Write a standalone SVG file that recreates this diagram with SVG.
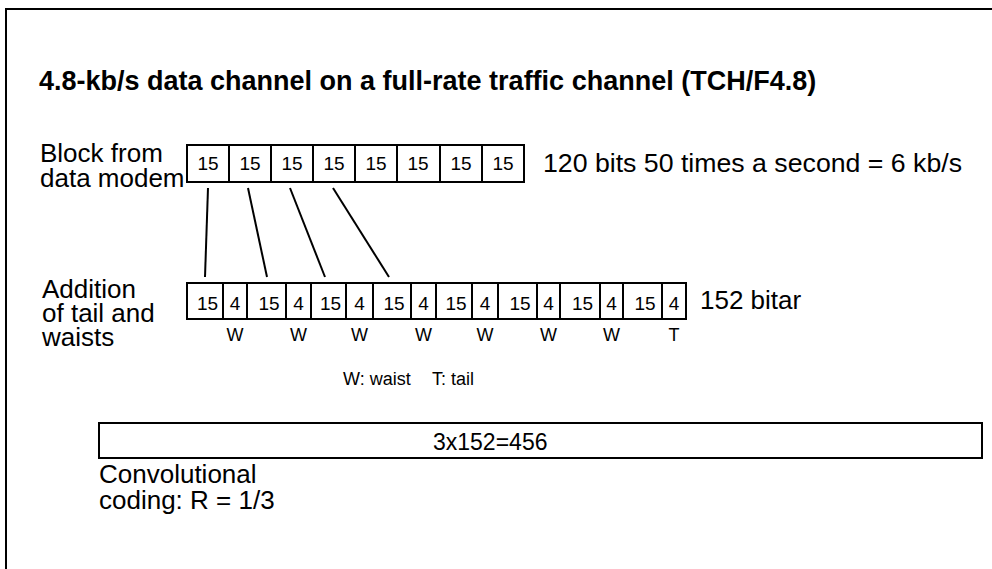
<svg xmlns="http://www.w3.org/2000/svg" width="992" height="569" viewBox="0 0 992 569">
<style>
text{font-family:"Liberation Sans",Arial,sans-serif;fill:#000}
.lbl{font-size:26px}
.cell{fill:#fff;stroke:#000;stroke-width:2}
.num{font-size:19px;text-anchor:middle}
.w{font-size:18px;text-anchor:middle}
.conn{stroke:#000;stroke-width:2;fill:none}
</style>
<rect x="0" y="0" width="992" height="569" fill="#fff"/>
<rect x="6" y="9" width="1000" height="600" fill="none" stroke="#000" stroke-width="2"/>
<text x="39" y="90" font-size="27" font-weight="bold">4.8-kb/s data channel on a full-rate traffic channel (TCH/F4.8)</text>

<g id="label-block">
<text class="lbl"><tspan x="40" y="162">Block from</tspan><tspan x="40" y="187">data modem</tspan></text>
</g>
<g id="block-modem">
<rect class="cell" x="187" y="145" width="42" height="37"/>
<rect class="cell" x="229" y="145" width="42" height="37"/>
<rect class="cell" x="271" y="145" width="42" height="37"/>
<rect class="cell" x="313" y="145" width="42" height="37"/>
<rect class="cell" x="355" y="145" width="42" height="37"/>
<rect class="cell" x="397" y="145" width="43" height="37"/>
<rect class="cell" x="440" y="145" width="42" height="37"/>
<rect class="cell" x="482" y="145" width="42" height="37"/>
<text class="num" x="208" y="170">15</text>
<text class="num" x="250" y="170">15</text>
<text class="num" x="292" y="170">15</text>
<text class="num" x="334" y="170">15</text>
<text class="num" x="376" y="170">15</text>
<text class="num" x="418" y="170">15</text>
<text class="num" x="461" y="170">15</text>
<text class="num" x="503" y="170">15</text>
</g>
<g id="label-rate">
<text class="lbl" x="543" y="172" textLength="419" lengthAdjust="spacingAndGlyphs">120 bits 50 times a second = 6 kb/s</text>
</g>

<g id="connectors">
<line class="conn" x1="208" y1="188" x2="205" y2="277"/>
<line class="conn" x1="248" y1="188" x2="267" y2="277"/>
<line class="conn" x1="290" y1="188" x2="325" y2="277"/>
<line class="conn" x1="333" y1="188" x2="389" y2="277"/>
</g>

<g id="label-addition">
<text class="lbl"><tspan x="42" y="298">Addition</tspan><tspan x="42" y="322">of tail and</tspan><tspan x="42" y="346">waists</tspan></text>
</g>
<g id="block-tail-waists">
<rect class="cell" x="187" y="283" width="36" height="36"/>
<rect class="cell" x="223" y="283" width="24" height="36"/>
<rect class="cell" x="247" y="283" width="39" height="36"/>
<rect class="cell" x="286" y="283" width="25" height="36"/>
<rect class="cell" x="311" y="283" width="35" height="36"/>
<rect class="cell" x="346" y="283" width="27" height="36"/>
<rect class="cell" x="373" y="283" width="38" height="36"/>
<rect class="cell" x="411" y="283" width="25" height="36"/>
<rect class="cell" x="436" y="283" width="36" height="36"/>
<rect class="cell" x="472" y="283" width="26" height="36"/>
<rect class="cell" x="498" y="283" width="39" height="36"/>
<rect class="cell" x="537" y="283" width="23" height="36"/>
<rect class="cell" x="560" y="283" width="40" height="36"/>
<rect class="cell" x="600" y="283" width="23" height="36"/>
<rect class="cell" x="623" y="283" width="39" height="36"/>
<rect class="cell" x="662" y="283" width="24" height="36"/>
<text class="num" x="207.5" y="310">15</text>
<text class="num" x="235" y="310">4</text>
<text class="num" x="269" y="310">15</text>
<text class="num" x="298.5" y="310">4</text>
<text class="num" x="330.5" y="310">15</text>
<text class="num" x="359.5" y="310">4</text>
<text class="num" x="394" y="310">15</text>
<text class="num" x="423.5" y="310">4</text>
<text class="num" x="456" y="310">15</text>
<text class="num" x="485" y="310">4</text>
<text class="num" x="520" y="310">15</text>
<text class="num" x="548.5" y="310">4</text>
<text class="num" x="582.5" y="310">15</text>
<text class="num" x="611.5" y="310">4</text>
<text class="num" x="645" y="310">15</text>
<text class="num" x="674" y="310">4</text>
<text class="w" x="235" y="341">W</text>
<text class="w" x="298.5" y="341">W</text>
<text class="w" x="359.5" y="341">W</text>
<text class="w" x="423.5" y="341">W</text>
<text class="w" x="485" y="341">W</text>
<text class="w" x="548.5" y="341">W</text>
<text class="w" x="611.5" y="341">W</text>
<text class="w" x="674" y="341">T</text>
</g>
<g id="label-bits">
<text class="lbl" x="700" y="309">152 bitar</text>
</g>
<g id="legend">
<text x="343" y="385" font-size="18">W: waist</text>
<text x="432" y="385" font-size="18">T: tail</text>
</g>

<g id="block-coded">
<rect x="99" y="423" width="883" height="35" fill="#fff" stroke="#000" stroke-width="2"/>
<text x="433" y="450" font-size="23">3x152=456</text>
</g>
<g id="label-conv">
<text class="lbl"><tspan x="99" y="483">Convolutional</tspan><tspan x="99" y="509">coding: R = 1/3</tspan></text>
</g>
</svg>
